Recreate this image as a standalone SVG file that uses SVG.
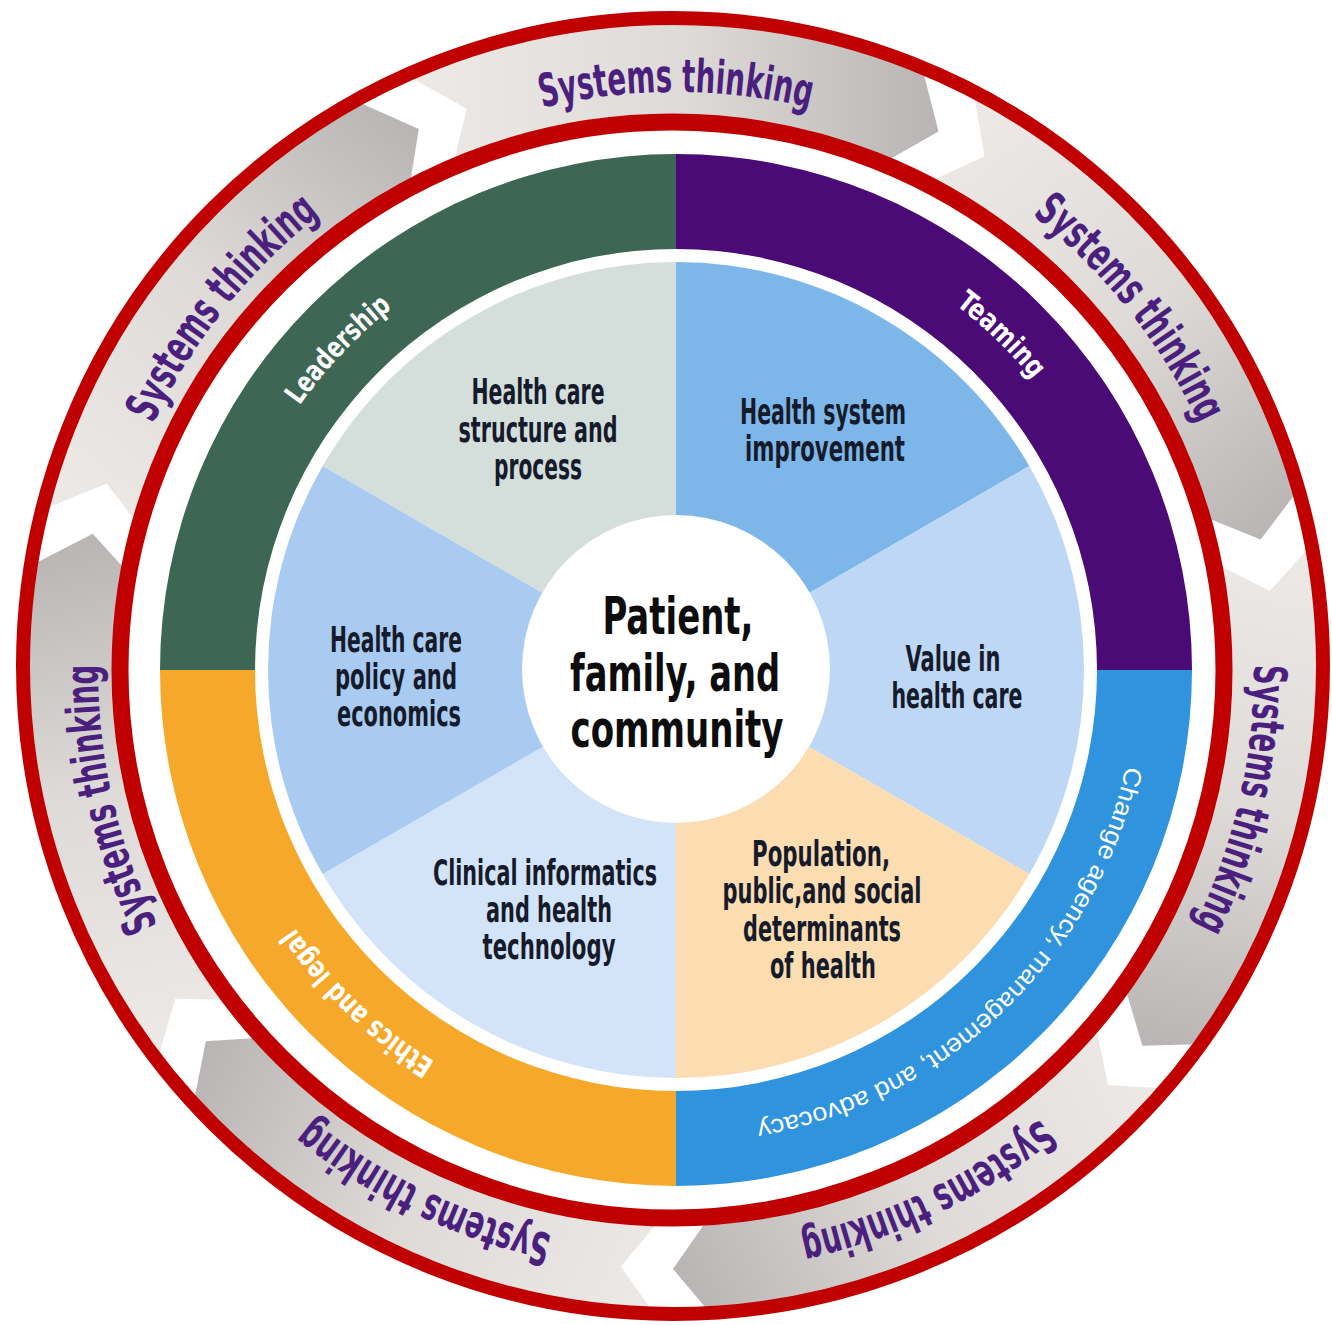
<svg xmlns="http://www.w3.org/2000/svg" xmlns:xlink="http://www.w3.org/1999/xlink" width="1332" height="1325" viewBox="0 0 1332 1325">
<defs>
<style>
.cond{font-family:"Liberation Sans Narrow","DejaVu Sans Condensed","Liberation Sans",sans-serif;font-weight:bold}
.st{font-size:46px;fill:#4a1f7e}
.pie{font-size:35px;fill:#161b2b;text-anchor:middle}
.ctr{font-size:52px;fill:#0d0d0d;text-anchor:middle}
.band{font-size:29px;fill:#ffffff}
.band2{font-family:"Liberation Sans","DejaVu Sans",sans-serif;font-size:25px;fill:#ffffff}
.red{fill:none;stroke:#c00000}
</style>
<linearGradient id="arrowGrad" gradientUnits="userSpaceOnUse" x1="440" y1="120" x2="935" y2="120">
<stop offset="0" stop-color="#ebe8e5"/>
<stop offset="0.5" stop-color="#dedad7"/>
<stop offset="1" stop-color="#b9b5b5"/>
</linearGradient>
<path id="arrowShape" d="M412.15,78.15 L466.89,108.68 L452.05,167.66 A550,550 0 0 1 885.59,161.50 L938.58,131.62 L922.93,70.89 A648,648 0 0 0 412.15,78.15 Z"/>
<path id="pS" d="M177.17,382 A574,574 0 0 1 1174.83,382"/>
<path id="pB" d="M277.63,440 A460,460 0 0 1 1074.37,440"/>
</defs>
<rect x="0" y="0" width="1332" height="1325" fill="#ffffff"/>

<g id="systems-thinking-ring">
<g id="arrow-1"><use xlink:href="#arrowShape" fill="url(#arrowGrad)"/><text class="cond st"><textPath xlink:href="#pS" startOffset="50%" text-anchor="middle" textLength="270" lengthAdjust="spacingAndGlyphs">Systems thinking</textPath></text></g>
<g id="arrow-2" transform="rotate(51.4286 676 670)"><use xlink:href="#arrowShape" fill="url(#arrowGrad)"/><text class="cond st"><textPath xlink:href="#pS" startOffset="50%" text-anchor="middle" textLength="270" lengthAdjust="spacingAndGlyphs">Systems thinking</textPath></text></g>
<g id="arrow-3" transform="rotate(102.8571 676 670)"><use xlink:href="#arrowShape" fill="url(#arrowGrad)"/><text class="cond st"><textPath xlink:href="#pS" startOffset="50%" text-anchor="middle" textLength="270" lengthAdjust="spacingAndGlyphs">Systems thinking</textPath></text></g>
<g id="arrow-4" transform="rotate(154.2857 676 670)"><use xlink:href="#arrowShape" fill="url(#arrowGrad)"/><text class="cond st"><textPath xlink:href="#pS" startOffset="50%" text-anchor="middle" textLength="270" lengthAdjust="spacingAndGlyphs">Systems thinking</textPath></text></g>
<g id="arrow-5" transform="rotate(205.7143 676 670)"><use xlink:href="#arrowShape" fill="url(#arrowGrad)"/><text class="cond st"><textPath xlink:href="#pS" startOffset="50%" text-anchor="middle" textLength="270" lengthAdjust="spacingAndGlyphs">Systems thinking</textPath></text></g>
<g id="arrow-6" transform="rotate(257.1429 676 670)"><use xlink:href="#arrowShape" fill="url(#arrowGrad)"/><text class="cond st"><textPath xlink:href="#pS" startOffset="50%" text-anchor="middle" textLength="270" lengthAdjust="spacingAndGlyphs">Systems thinking</textPath></text></g>
<g id="arrow-7" transform="rotate(308.5714 676 670)"><use xlink:href="#arrowShape" fill="url(#arrowGrad)"/><text class="cond st"><textPath xlink:href="#pS" startOffset="50%" text-anchor="middle" textLength="270" lengthAdjust="spacingAndGlyphs">Systems thinking</textPath></text></g>
</g>

<g id="red-rings">
<ellipse class="red" cx="673" cy="666" rx="650" ry="648" stroke-width="14"/>
<ellipse class="red" cx="672" cy="670" rx="552" ry="548" stroke-width="17"/>
</g>

<g id="band-leadership">
<path d="M160,670 A516,516 0 0 1 676,154 L676,249 A421,421 0 0 0 255,670 Z" fill="#3d6654"/>
<text class="cond band" transform="rotate(-46.5 676 670)"><textPath xlink:href="#pB" startOffset="50%" text-anchor="middle" textLength="135" lengthAdjust="spacingAndGlyphs">Leadership</textPath></text>
</g>
<g id="band-teaming">
<path d="M676,154 A516,516 0 0 1 1192,670 L1097,670 A421,421 0 0 0 676,249 Z" fill="#4b0b77"/>
<text class="cond band" transform="rotate(44.15 676 670)"><textPath xlink:href="#pB" startOffset="50%" text-anchor="middle" textLength="108" lengthAdjust="spacingAndGlyphs">Teaming</textPath></text>
</g>
<g id="band-change">
<path d="M1192,670 A516,516 0 0 1 676,1186 L676,1091 A421,421 0 0 0 1097,670 Z" fill="#2f93dd"/>
<text class="band2" transform="rotate(136 676 670)"><textPath xlink:href="#pB" startOffset="50%" text-anchor="middle" textLength="545" lengthAdjust="spacingAndGlyphs">Change agency, management, and advocacy</textPath></text>
</g>
<g id="band-ethics">
<path d="M676,1186 A516,516 0 0 1 160,670 L255,670 A421,421 0 0 0 676,1091 Z" fill="#f5a829"/>
<text class="cond band" transform="rotate(223.75 676 670)"><textPath xlink:href="#pB" startOffset="50%" text-anchor="middle" textLength="195" lengthAdjust="spacingAndGlyphs">Ethics and legal</textPath></text>
</g>

<g id="wedge-structure">
<path d="M676,670 L322.67,466 A408,408 0 0 1 676,262 Z" fill="#d4dfdc"/>
<text class="cond pie" x="538" y="404" textLength="133" lengthAdjust="spacingAndGlyphs">Health care</text>
<text class="cond pie" x="538" y="442" textLength="159" lengthAdjust="spacingAndGlyphs">structure and</text>
<text class="cond pie" x="538" y="479" textLength="88" lengthAdjust="spacingAndGlyphs">process</text>
</g>
<g id="wedge-improvement">
<path d="M676,670 L676,262 A408,408 0 0 1 1029.33,466 Z" fill="#7db7ea"/>
<text class="cond pie" x="823" y="424" textLength="166" lengthAdjust="spacingAndGlyphs">Health system</text>
<text class="cond pie" x="825" y="461" textLength="160" lengthAdjust="spacingAndGlyphs">improvement</text>
</g>
<g id="wedge-value">
<path d="M676,670 L1029.33,466 A408,408 0 0 1 1029.33,874 Z" fill="#bdd7f4"/>
<text class="cond pie" x="953" y="671" textLength="95" lengthAdjust="spacingAndGlyphs">Value in</text>
<text class="cond pie" x="957" y="708" textLength="131" lengthAdjust="spacingAndGlyphs">health care</text>
</g>
<g id="wedge-population">
<path d="M676,670 L1029.33,874 A408,408 0 0 1 676,1078 Z" fill="#fcdcb1"/>
<text class="cond pie" x="821" y="866" textLength="138" lengthAdjust="spacingAndGlyphs">Population,</text>
<text class="cond pie" x="822" y="903" textLength="199" lengthAdjust="spacingAndGlyphs">public,and social</text>
<text class="cond pie" x="822" y="941" textLength="158" lengthAdjust="spacingAndGlyphs">determinants</text>
<text class="cond pie" x="823" y="978" textLength="106" lengthAdjust="spacingAndGlyphs">of health</text>
</g>
<g id="wedge-informatics">
<path d="M676,670 L676,1078 A408,408 0 0 1 322.67,874 Z" fill="#d4e4f8"/>
<text class="cond pie" x="545" y="885" textLength="224" lengthAdjust="spacingAndGlyphs">Clinical informatics</text>
<text class="cond pie" x="549" y="922" textLength="126" lengthAdjust="spacingAndGlyphs">and health</text>
<text class="cond pie" x="549" y="959" textLength="133" lengthAdjust="spacingAndGlyphs">technology</text>
</g>
<g id="wedge-policy">
<path d="M676,670 L322.67,874 A408,408 0 0 1 322.67,466 Z" fill="#a9cbf1"/>
<text class="cond pie" x="396" y="652" textLength="132" lengthAdjust="spacingAndGlyphs">Health care</text>
<text class="cond pie" x="396" y="689" textLength="122" lengthAdjust="spacingAndGlyphs">policy and</text>
<text class="cond pie" x="399" y="726" textLength="124" lengthAdjust="spacingAndGlyphs">economics</text>
</g>

<g id="center">
<circle cx="676" cy="669" r="154" fill="#ffffff"/>
<text class="cond ctr" x="678" y="634" textLength="151" lengthAdjust="spacingAndGlyphs">Patient,</text>
<text class="cond ctr" x="675" y="691" textLength="210" lengthAdjust="spacingAndGlyphs">family, and</text>
<text class="cond ctr" x="677" y="747" textLength="213" lengthAdjust="spacingAndGlyphs">community</text>
</g>
<g id="connectors"/>
</svg>
